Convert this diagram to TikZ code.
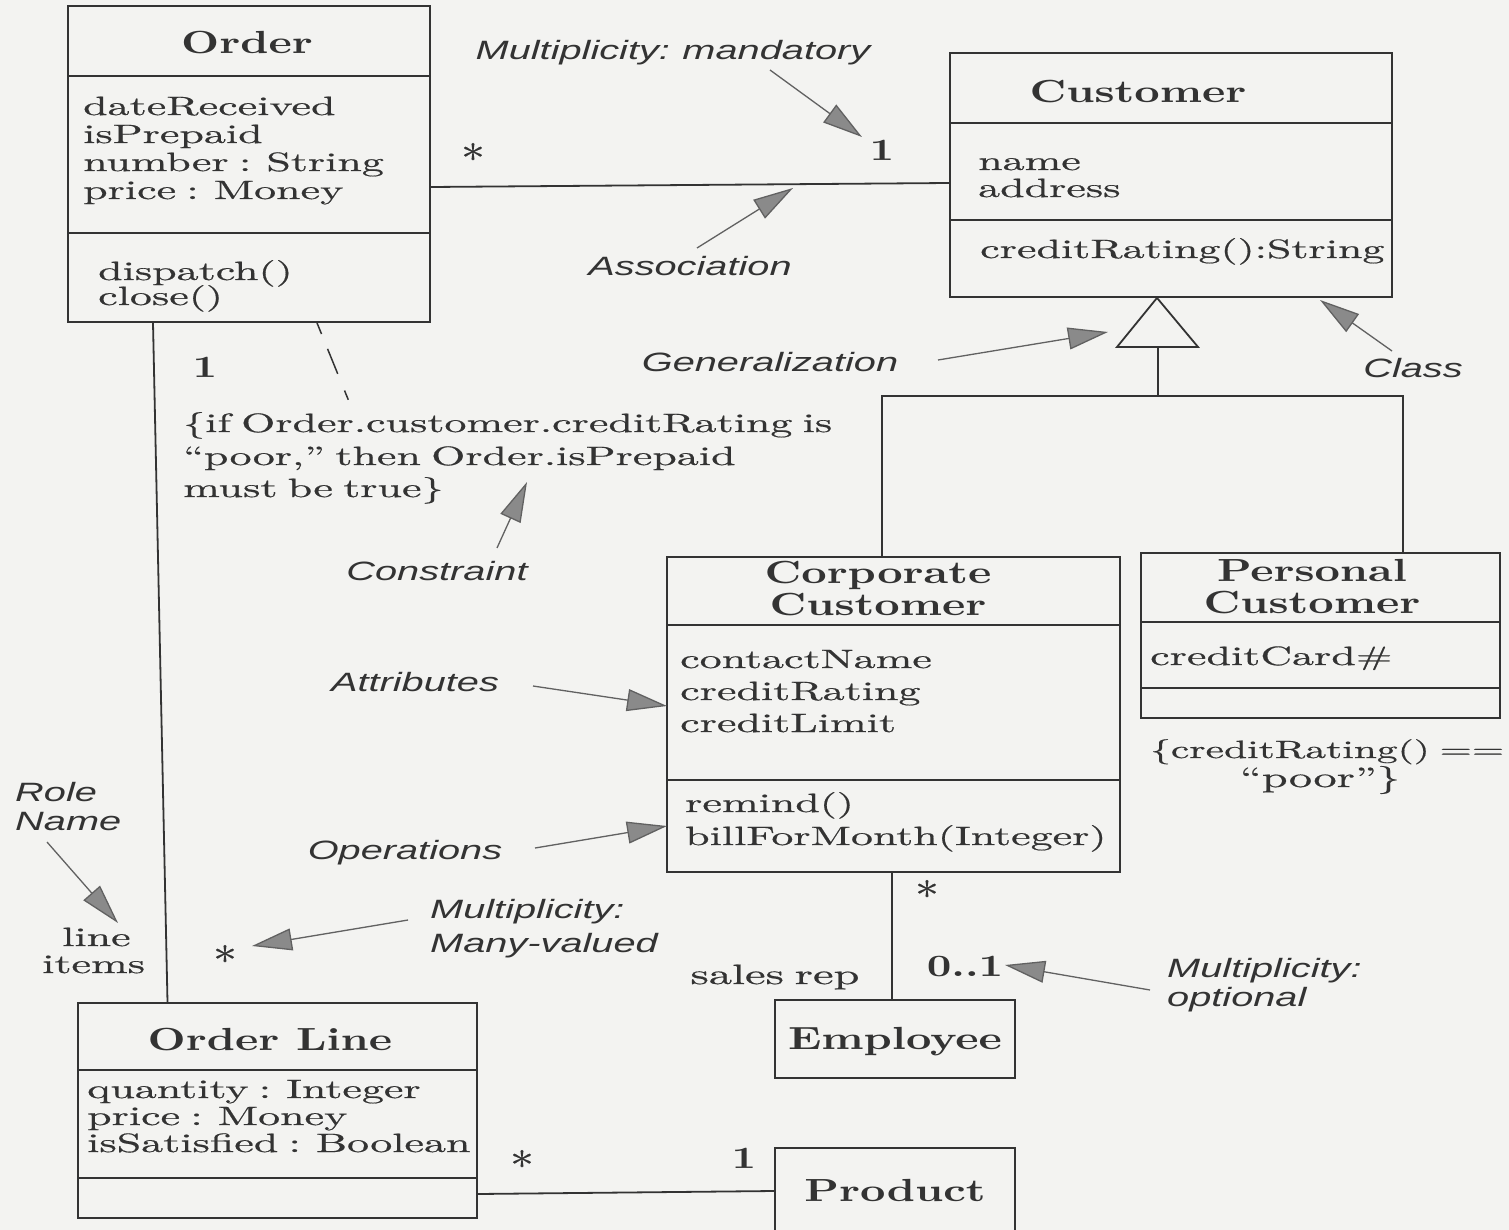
\documentclass[tikz,border=0pt]{standalone}
\usepackage{fontspec}
\setmainfont{lmroman10-regular.otf}[FakeStretch=1.66, FakeBold=0.6, WordSpace=0.7]
\newfontfamily\titlefont{lmroman10-bold.otf}[FakeStretch=1.38]
\newfontfamily\starfont{lmroman10-regular.otf}[FakeStretch=1.2, FakeBold=0.4]
\newfontfamily\notefont{Liberation Sans}[FakeStretch=1.5, WordSpace=0.8]
\usetikzlibrary{arrows.meta,calc}
\definecolor{paper}{HTML}{F3F3F1}
\definecolor{ink}{HTML}{333333}
\definecolor{notegray}{HTML}{8A8A8A}

\tikzset{
  boxline/.style={draw=ink, line width=1.8pt},
  classbox/.style={boxline, rectangle, inner sep=0pt},
  ctitle/.style={font=\titlefont\fontsize{32}{32}\selectfont, text=ink, inner sep=0pt, align=center},
  member/.style={font=\fontsize{26.5}{28}\selectfont, text=ink, inner sep=0pt, anchor=base west},
  mult/.style={font=\fontsize{28}{28}\selectfont, text=ink, inner sep=0pt},
  multb/.style={font=\titlefont\fontsize{31}{31}\selectfont, text=ink, inner sep=0pt},
  star/.style={font=\starfont\fontsize{40}{40}\selectfont, text=ink, inner sep=0pt},
  note/.style={font=\notefont\itshape\fontsize{26.5}{28}\selectfont, text=ink, inner sep=0pt},
  pointer/.style={draw=notegray!70!black, line width=1.3pt,
    -{Triangle[length=40pt,width=22pt,fill=notegray]}},
}

% one node per text line, baselines #4 apart
\newcommand\members[5]{%
  \foreach \m [count=\k from 0] in {#5} {\node[member] (#1\k) at (#2,{#3+\k*#4}) {\m};}}
% horizontal compartment separator inside a class box
\newcommand\divider[2]{\draw[boxline] (#1.west |- 0,#2) -- (#1.east |- 0,#2);}

\begin{document}
\begin{tikzpicture}[x=1pt,y=-1pt]
\fill[paper] (0,0) rectangle (1509,1230);
\useasboundingbox (0,0) rectangle (1509,1230);

% ---------------- classes ----------------
\node[classbox, minimum width=362pt, minimum height=316pt] (order) at (249,164) {};
\divider{order}{76}\divider{order}{233}
\node[ctitle] (ordertitle) at (247,43) {Order};
\members{orderattr}{83}{115}{28}{dateReceived,isPrepaid,number : String,price : Money}
\members{orderop}{98}{280}{25}{dispatch(),close()}

\node[classbox, minimum width=442pt, minimum height=244pt] (cust) at (1171,175) {};
\divider{cust}{123}\divider{cust}{220}
\node[ctitle] (custtitle) at (1138,92) {Customer};
\members{custattr}{978}{170}{27}{name,address}
\members{custop}{980}{258}{28}{creditRating():String}

\node[classbox, minimum width=453pt, minimum height=315pt] (corp) at (893.5,714.5) {};
\divider{corp}{625}\divider{corp}{780}
\node[ctitle] (corptitle) at (878,589) {Corporate\\Customer};
\members{corpattr}{680}{668}{32}{contactName,creditRating,creditLimit}
\members{corpop}{685}{812}{33}{remind(),billForMonth(Integer)}

\node[classbox, minimum width=359pt, minimum height=165pt] (pers) at (1320.5,635.5) {};
\divider{pers}{622}\divider{pers}{688}
\node[ctitle] (perstitle) at (1312,587) {Personal\\Customer};
\members{persattr}{1150}{665}{28}{creditCard\#}
\node[member, font=\fontsize{25}{26}\selectfont] (persc1) at (1150,758) {\{creditRating() ==};
\node[mult] (persc2) at (1320,780) {“poor”\}};

\node[classbox, minimum width=240pt, minimum height=78pt] (emp) at (895,1039) {};
\node[ctitle] (emptitle) at (895,1042) {Employee};

\node[classbox, minimum width=399pt, minimum height=215pt] (ol) at (277.5,1110.5) {};
\divider{ol}{1070}\divider{ol}{1178}
\node[ctitle] (oltitle) at (270,1040) {Order Line};
\members{olattr}{87}{1098}{27}{quantity : Integer,price : Money,isSatisfied : Boolean}

\node[classbox, minimum width=240pt, minimum height=92pt] (prod) at (895,1194) {};
\node[ctitle] (prodtitle) at (895,1190) {Product};

% ---------------- relationships ----------------
% association Order -- Customer
\draw[boxline] ([yshift=-23pt]order.east) -- ([yshift=-8pt]cust.west);
\node[star] (m1) at (473,158) {*};
\node[multb] (m2) at (882,150) {1};

% generalization
\draw[boxline, fill=paper] (cust.south -| 1157,0) -- (1117,347) -- (1198,347) -- cycle;
\coordinate (genbase) at (1158,347);
\coordinate (gjoin) at (1158,396);
\coordinate (gleft) at (882,396);
\coordinate (gright) at (1403,396);
\draw[boxline] (genbase) -- (gjoin);
\draw[boxline] (corp.north -| gleft) -- (gleft) -- (gright) -- (pers.north -| gright);

% Order -- Order Line
\draw[boxline] ([xshift=-96pt]order.south) -- ([xshift=-110pt]ol.north);
\node[multb] (m3) at (205,367) {1};
\node[star] (m4) at (225,960) {*};
\node[member] (roleli1) at (62,946) {line};
\node[member] (roleli2) at (42,973) {items};

% Order Line -- Product
\draw[boxline] ([yshift=-83.5pt]ol.east) -- ([yshift=3pt]prod.west);
\node[star] (m5) at (522,1165) {*};
\node[multb] (m6) at (744,1158) {1};

% Corporate Customer -- Employee
\draw[boxline] ([xshift=-1.5pt]corp.south) -- ([xshift=-3pt]emp.north);
\node[star] (m7) at (927,895) {*};
\node[mult] (salesrep) at (775,977) {sales rep};
\node[multb] (m8) at (965,967) {0..1};

% constraint attached to Order
\coordinate (constrtop) at (350,404);
\draw[ink, line width=1.5pt, dash pattern=on 12pt off 16pt on 27pt off 18pt on 10pt off 20pt]
  ([xshift=68pt]order.south) -- (constrtop);
\node[member] (cons0) at (183,432) {\{if Order.customer.creditRating is};
\node[member] (cons1) at (183,465) {“poor,” then Order.isPrepaid};
\node[member] (cons2) at (183,497) {must be true\}};

% ---------------- annotations ----------------
\node[note] (nmand) at (673,53) {Multiplicity: mandatory};
\node[note] (nassoc) at (690,266) {Association};
\node[note] (ngen) at (770,362) {Generalization};
\node[note] (nclass) at (1413,368) {Class};
\node[note] (ncons) at (437,571) {Constraint};
\node[note] (nattr) at (415,682) {Attributes};
\node[note] (nops) at (405,853) {Operations};
\node[note, align=left, anchor=north west, font=\notefont\itshape\fontsize{26.5}{29}\selectfont] (nrole) at (15,782) {Role\\Name};
\node[note, align=left, anchor=north west, font=\notefont\itshape\fontsize{26.5}{34}\selectfont] (nmany) at (430,899) {Multiplicity:\\Many-valued};
\node[note, align=left, anchor=north west, font=\notefont\itshape\fontsize{26.5}{29}\selectfont] (nopt) at (1167,958) {Multiplicity:\\optional};

\coordinate (pmandS) at (770,70);  \coordinate (pmandT) at (862,137);
\coordinate (passS) at (697,248);  \coordinate (passT) at (793,188);
\coordinate (pgenS) at (938,360);  \coordinate (pgenT) at (1108,332);
\coordinate (pclsS) at (1392,351); \coordinate (pclsT) at (1320,300);
\coordinate (pconS) at (497,548);  \coordinate (pconT) at (527,482);
\coordinate (pattS) at (533,686);  \coordinate (pattT) at (667,706);
\coordinate (popsS) at (535,848);  \coordinate (popsT) at (667,826);
\coordinate (proleS) at (47,842);  \coordinate (proleT) at (118,923);
\coordinate (pmanyS) at (408,920); \coordinate (pmanyT) at (252,946);
\coordinate (poptS) at (1150,990); \coordinate (poptT) at (1005,965);

\draw[pointer] (pmandS) -- (pmandT);
\draw[pointer] (passS) -- (passT);
\draw[pointer] (pgenS) -- (pgenT);
\draw[pointer] (pclsS) -- (pclsT);
\draw[pointer] (pconS) -- (pconT);
\draw[pointer] (pattS) -- (pattT);
\draw[pointer] (popsS) -- (popsT);
\draw[pointer] (proleS) -- (proleT);
\draw[pointer] (pmanyS) -- (pmanyT);
\draw[pointer] (poptS) -- (poptT);
\end{tikzpicture}
\end{document}
